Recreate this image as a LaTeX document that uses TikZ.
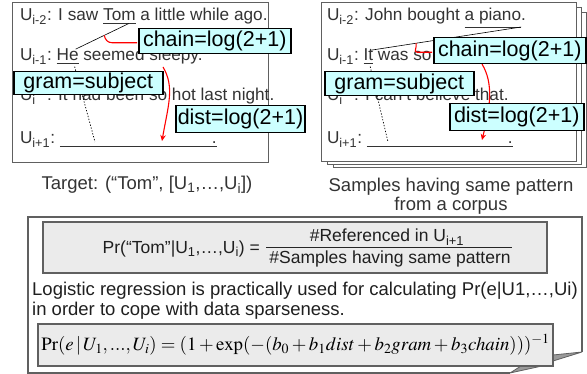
\documentclass[tikz,border=0pt]{standalone}
\usepackage{mathptmx}
\usepackage[no-math]{fontspec}
\setmainfont{Liberation Sans}
\usetikzlibrary{arrows.meta,calc}
\definecolor{txt}{HTML}{333333}
\definecolor{lab}{HTML}{CCFFFF}
\definecolor{panel}{HTML}{606060}
\definecolor{fboxc}{HTML}{EBEBEB}
\definecolor{curl}{HTML}{9A9A9A}
\begin{document}
\begin{tikzpicture}[x=1pt,y=-1pt,
  sent/.style={inner sep=0pt, outer sep=0pt, anchor=base west, text=txt, font=\fontsize{17.2}{20}\selectfont},
  lbl/.style={draw=black, line width=1.5pt, fill=lab, inner xsep=2pt, inner ysep=0pt, text height=15.5pt, text depth=4.5pt, font=\fontsize{21.5}{24}\selectfont, anchor=north west},
  pnl/.style={draw=panel, line width=1pt, fill=white},
  tieline/.style={draw=black, line width=0.6pt},
  hookline/.style={draw=red, line width=1.1pt},
  redarrow/.style={draw=red, line width=1.1pt, -{Stealth[length=6pt,width=5.5pt]}},
  dotl/.style={draw=black, line width=0.7pt, dash pattern=on 1.3pt off 1.7pt},
  captxt/.style={text=txt, font=\fontsize{18.5}{19}\selectfont, inner sep=0pt},
  bodytxt/.style={text=black!88, font=\fontsize{18.5}{20}\selectfont, inner sep=0pt},
  fractxt/.style={text=black!88, font=\fontsize{17.5}{20}\selectfont, inner sep=0pt},
  outerl/.style={draw=panel, line width=1.2pt},
  gbox/.style={draw=panel, line width=1.2pt, fill=fboxc}
]
\useasboundingbox (0,0) rectangle (587,374);

% ---------- left panel ----------
\draw[pnl] (12,3) rectangle (268,163);
\node[sent] (l1a) at (20,21) {U\textsubscript{i-2}: I saw};
\node[sent] (tomL) at (l1a.base east) {\ \underline{Tom}};
\node[sent] (l1c) at (tomL.base east) {\ a little while ago.};
\node[sent] (l2a) at (20,61) {U\textsubscript{i-1}:};
\node[sent] (heL) at (l2a.base east) {\ \underline{He}};
\node[sent] (l2c) at (heL.base east) {\ seemed sleepy.};
\node[sent] (l3) at (20,101) {U\textsubscript{i\phantom{-1}}: It had been so hot last night.};
\node[sent] (l4a) at (20,144) {U\textsubscript{i+1}:};
\node[sent] (blankL) at (l4a.base east) {\ \underline{\hspace{152pt}.}};

\coordinate (tomLp) at ($(tomL.south east)+(-7,-1)$);
\coordinate (heLp) at ($(heL.north east)+(-3,0)$);
\draw[tieline] (tomLp) -- (heLp);
\coordinate (hookL) at ($(tomLp)!0.46!(heLp)$);
\coordinate (sL) at (163,67);
\coordinate (eL) at (162,141);
\draw[redarrow] (sL) .. controls +(12,20) and +(6,-35) .. (eL);
\coordinate (dsL) at ($(heL.south east)+(-4,2)$);
\coordinate (deL) at (95,142);
\draw[dotl] (dsL) -- (deL);

% ---------- right panel (stack) ----------
\draw[pnl] (333,13) rectangle (586,168);
\draw[pnl] (327,8) rectangle (581,165);
\draw[pnl] (321,3) rectangle (576,162);
\node[sent] (r1a) at (327,21) {U\textsubscript{i-2}: John bought};
\node[sent] (pianoR) at (r1a.base east) {\ \underline{a piano}};
\node[sent] (r1c) at (pianoR.base east) {.};
\node[sent] (r2a) at (327,61) {U\textsubscript{i-1}:};
\node[sent] (itR) at (r2a.base east) {\ \underline{It}};
\node[sent] (r2c) at (itR.base east) {\ was so};
\node[sent] (r3) at (327,101) {U\textsubscript{i\phantom{-1}}: I can't believe that.};
\node[sent] (r4a) at (327,144) {U\textsubscript{i+1}:};
\node[sent] (blankR) at (r4a.base east) {\ \underline{\hspace{141pt}.}};

\coordinate (pianoRp) at ($(pianoR.south east)+(0,-1)$);
\coordinate (itRp) at ($(itR.north east)+(-2,1)$);
\draw[tieline] (pianoRp) -- (itRp);
\coordinate (hookR) at ($(pianoRp)!0.70!(itRp)$);
\coordinate (sR) at (482,64);
\coordinate (eR) at (482,140);
\draw[redarrow] (sR) .. controls +(12,20) and +(8,-32) .. (eR);
\coordinate (dsR) at ($(itR.south east)+(-3,2)$);
\coordinate (deR) at (388,142);
\draw[dotl] (dsR) -- (deR);

% ---------- label boxes ----------
\node[lbl, minimum width=152pt, minimum height=25pt] (chainL) at (138,28) {chain=log(2+1)};
\node[lbl, minimum width=149pt, minimum height=23pt] (gramL) at (13,71) {gram=subject};
\node[lbl, minimum width=128pt, minimum height=27pt] (distL) at (175,105) {dist=log(2+1)};
\node[lbl, minimum width=152pt, minimum height=26pt] (chainR) at (433,37) {chain=log(2+1)};
\node[lbl, minimum width=149pt, minimum height=24pt] (gramR) at (324,71) {gram=subject};
\node[lbl, minimum width=134pt, minimum height=27pt] (distR) at (449,103) {dist=log(2+1)};

\draw[hookline] ($(chainL.west)+(-0.8,1.5)$) -- ++(-25,0) .. controls +(-5,0) and +(1,4) .. (hookL);
\draw[hookline] ($(chainR.west)+(-0.8,1.5)$) -- ++(-15,0) .. controls +(-4,0) and +(1,4) .. (hookR);

% ---------- captions ----------
\node[captxt] (capL) at (147,185) {Target: (“Tom”, [U\textsubscript{1},…,U\textsubscript{i}])};
\node[captxt, align=center] (capR) at (451,196) {Samples having same pattern\\from a corpus};

% ---------- bottom box ----------
\filldraw[draw=panel, line width=0.8pt, fill=curl] (582,352) -- (553,355) -- (553,361) -- cycle;
\filldraw[draw=panel, line width=0.8pt, fill=curl] (510,373) -- (521,366) -- (542,366) -- cycle;
\draw[outerl] (582,352) -- (582,217) -- (28,217) -- (28,373) -- (510,373);
\draw[gbox] (43,222) rectangle (547,273);
\node[fractxt, anchor=east] (prl) at (260,249) {Pr(“Tom”|U\textsubscript{1},…,U\textsubscript{i}) =};
\node[fractxt] (num) at (387,237) {\#Referenced in U\textsubscript{i+1}};
\node[fractxt] (den) at (390,259) {\#Samples having same pattern};
\draw[line width=0.9pt, black!85] ($(den.west |- 0,247.5)+(-3,0)$) -- ($(den.east |- 0,247.5)+(1,0)$);
\node[bodytxt, anchor=base west] (lg1) at (32,296) {Logistic regression is practically used for calculating Pr(e|U1,…,Ui)};
\node[bodytxt, anchor=base west] (lg2) at (32,316) {in order to cope with data sparseness.};
\node[gbox, minimum width=515pt, minimum height=42pt, inner sep=0pt, font=\fontsize{18.8}{20}\selectfont] (form) at (295.5,345)
  {$\mathrm{Pr}(e\,|\,U_1,...,U_i)=(1+\exp(-(b_0+b_1 dist+b_2 gram+b_3 chain)))^{-1}$};
\end{tikzpicture}
\end{document}
